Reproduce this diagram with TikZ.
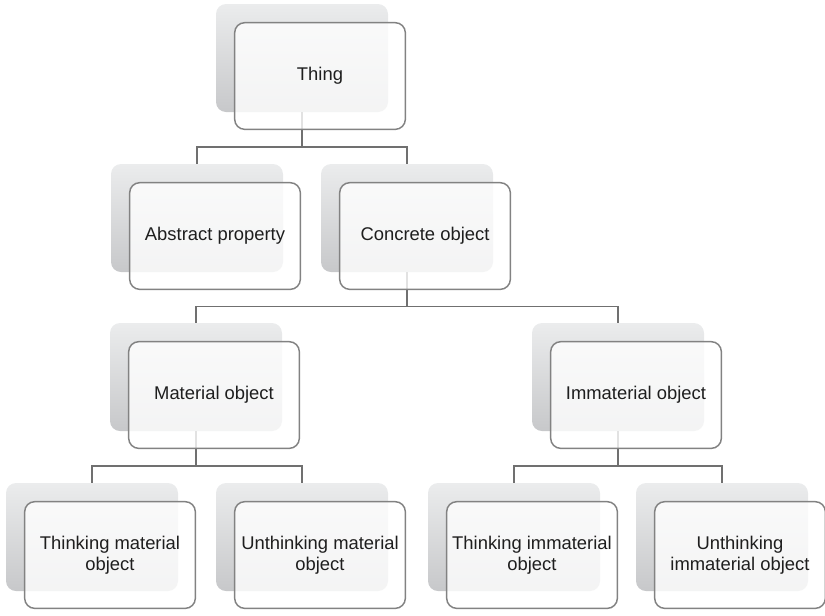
\documentclass[tikz,border=0pt]{standalone}
\usepackage{fontspec}
\setmainfont{Liberation Sans}
\usetikzlibrary{calc}

\definecolor{shadetop}{RGB}{235,236,237}
\definecolor{shadebot}{RGB}{199,200,202}
\definecolor{boxline}{RGB}{130,130,130}
\definecolor{linkline}{RGB}{112,112,112}
\definecolor{textcol}{RGB}{30,30,30}

\begin{document}
\begin{tikzpicture}[x=0.75pt, y=-0.75pt,
  backbox/.style={rounded corners=7.5pt, minimum width=129pt, minimum height=81pt,
    top color=shadetop, bottom color=shadebot, draw=none, inner sep=0pt},
  frontbox/.style={rounded corners=7.5pt, draw=boxline, line width=1.1pt,
    fill=white, fill opacity=0.8, text opacity=1, text=textcol,
    minimum width=128pt, minimum height=80pt, inner sep=0pt, align=center,
    font=\fontsize{13.8}{16}\selectfont},
  link/.style={draw=linkline, line width=1.2pt}]
  \useasboundingbox (0,0) rectangle (825,615);

  % 後ろの影の箱
  \foreach \n/\x/\y in {thing/320/76, abs/215/236, conc/425/236, mat/214/395,
      imm/636/395, tmat/110/555, umat/320/555, timm/532/555, uimm/740/555} {
    \node[backbox] (\n-bg) at (\x-18,\y-18) {};
  }

  % 階層の線
  \foreach \p/\c in {thing/abs, thing/conc, conc/mat, conc/imm,
      mat/tmat, mat/umat, imm/timm, imm/uimm} {
    \draw[link] (\p-bg.south) |- ($(\p-bg.south)!.5!(\c-bg.north)+(0,9)$) -| (\c-bg.north);
  }

  % 前の箱
  \foreach \n/\x/\y/\t in {thing/320/76/Thing, abs/215/236/Abstract property,
      conc/425/236/Concrete object, mat/214/395/Material object,
      imm/636/395/Immaterial object, tmat/110/555/{Thinking material\\object},
      umat/320/555/{Unthinking material\\object}, timm/532/555/{Thinking immaterial\\object},
      uimm/740/555/{Unthinking\\immaterial object}} {
    \node[frontbox] (\n) at (\x,\y) {\t};
  }
\end{tikzpicture}
\end{document}
